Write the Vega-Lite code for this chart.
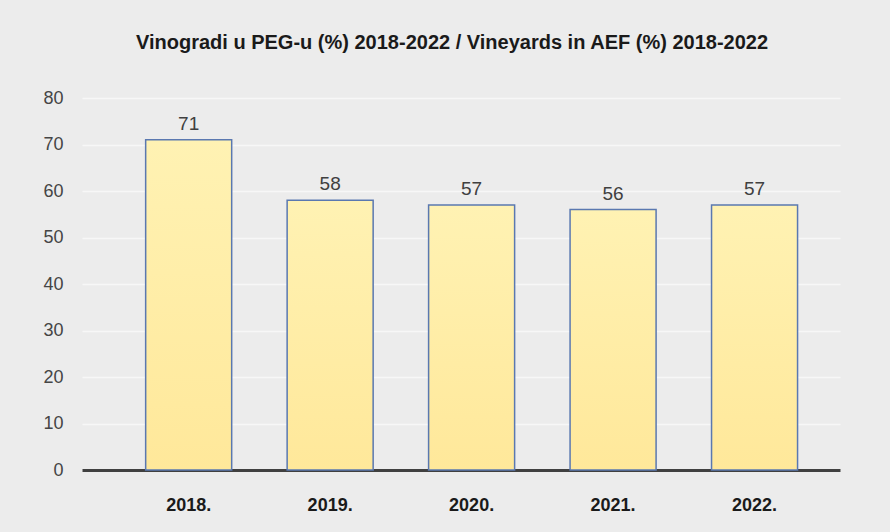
{
  "$schema": "https://vega.github.io/schema/vega-lite/v6.json",
  "autosize": "none",
  "width": 758,
  "height": 372,
  "padding": {"left": 82, "top": 98, "right": 50, "bottom": 62},
  "background": "#ececec",
  "title": {
    "text": "Vinogradi u PEG-u (%) 2018-2022 / Vineyards in AEF (%) 2018-2022",
    "font": "Liberation Sans",
    "fontSize": 20,
    "fontWeight": "bold",
    "color": "#1a1a1a",
    "offset": 36,
    "anchor": "middle",
    "dx": -9
  },
  "config": {
    "view": {"stroke": null},
    "axis": {"gridColor": "#f7f7f7", "gridWidth": 1.5}
  },
  "data": {
    "values": [
      {"year": "2018.", "value": 71},
      {"year": "2019.", "value": 58},
      {"year": "2020.", "value": 57},
      {"year": "2021.", "value": 56},
      {"year": "2022.", "value": 57}
    ]
  },
  "encoding": {
    "x": {
      "field": "year",
      "type": "nominal",
      "sort": null,
      "scale": {"paddingInner": 0.392, "paddingOuter": 0.375, "align": 0.6},
      "axis": {
        "title": null,
        "labelAngle": 0,
        "labelFont": "Liberation Sans",
        "labelFontSize": 18,
        "labelFontWeight": "bold",
        "labelColor": "#1a1a1a",
        "labelPadding": 26,
        "ticks": false,
        "domainColor": "#404040",
        "domainWidth": 3
      }
    },
    "y": {
      "field": "value",
      "type": "quantitative",
      "scale": {"domain": [0, 80]},
      "axis": {
        "title": null,
        "values": [0, 10, 20, 30, 40, 50, 60, 70, 80],
        "labelOverlap": false,
        "labelFont": "Liberation Sans",
        "labelFontSize": 18,
        "labelColor": "#454545",
        "labelPadding": 19,
        "ticks": false,
        "domain": false
      }
    }
  },
  "layer": [
    {
      "mark": {
        "type": "bar",
        "color": {
          "x1": 0, "y1": 0, "x2": 0, "y2": 1,
          "gradient": "linear",
          "stops": [
            {"offset": 0, "color": "#fff2b3"},
            {"offset": 1, "color": "#ffe89a"}
          ]
        },
        "stroke": "#5a78b0",
        "strokeWidth": 1.5
      }
    },
    {
      "mark": {
        "type": "text",
        "baseline": "bottom",
        "dy": -6,
        "font": "Liberation Sans",
        "fontSize": 19,
        "color": "#404040"
      },
      "encoding": {"text": {"field": "value", "type": "quantitative"}}
    }
  ]
}
